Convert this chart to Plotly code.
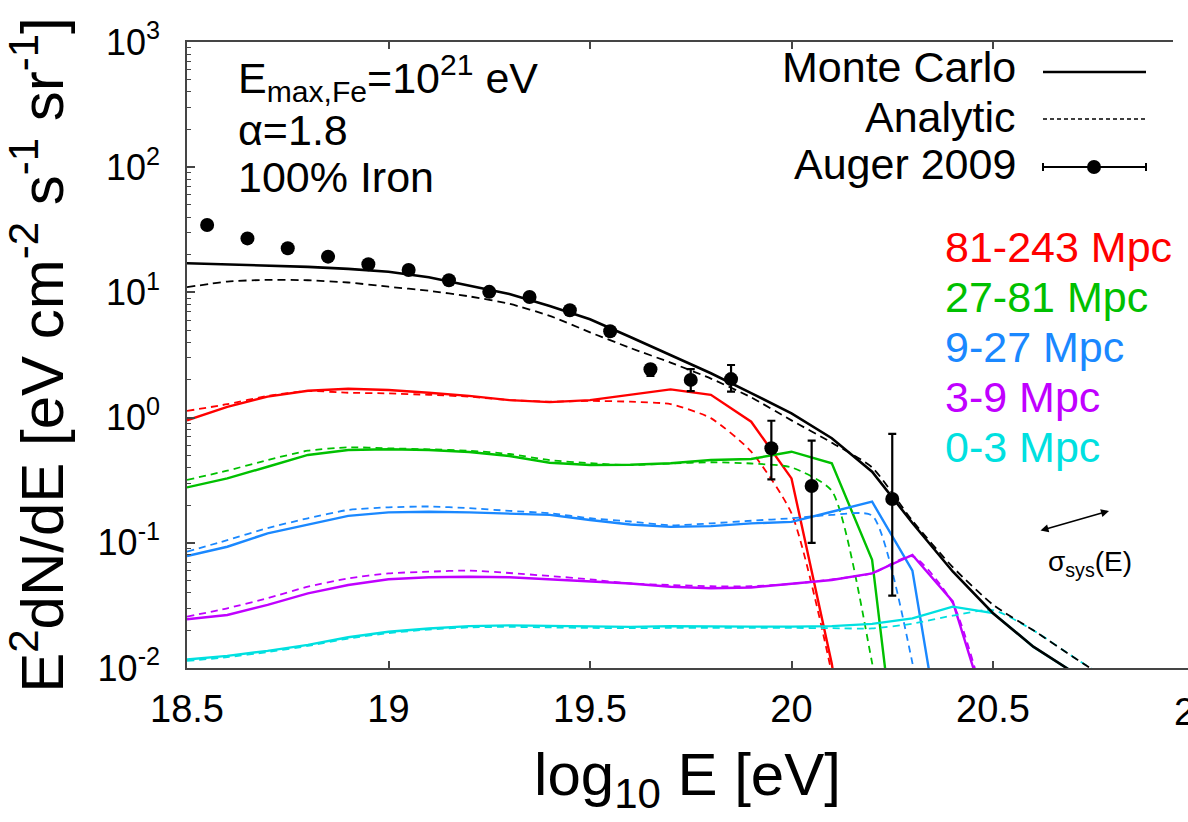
import plotly.graph_objects as go

# ---------------------------------------------------------------- data
# log10(E/eV) grid of the propagation histograms (bin spacing 0.1)
E_GRID = [18.5, 18.6, 18.7, 18.8, 18.9, 19.0, 19.1, 19.2, 19.3, 19.4, 19.5,
          19.6, 19.7, 19.8, 19.9, 20.0, 20.1, 20.2, 20.3, 20.4, 20.5, 20.6,
          20.7, 20.8, 20.9, 21.0]

# total flux E^2 dN/dE  [eV cm^-2 s^-1 sr^-1]
mc_total = [17.1, 16.7, 16.4, 16.0, 15.4, 14.6, 13.2, 11.3, 9.7, 7.8, 6.1,
            4.4, 3.13, 2.26, 1.57, 1.08, 0.684, 0.370, 0.144, 0.059, 0.0274,
            0.0148, 0.0092, 0.0045, 0.0022, 0.0011]
an_total = [11.0, 12.2, 12.6, 12.5, 12.0, 11.1, 10.3, 9.3, 8.1, 6.5, 4.8,
            3.6, 2.75, 2.05, 1.45, 0.95, 0.63, 0.40, 0.15, 0.064, 0.032,
            0.020, 0.0122, 0.0075, 0.0045, 0.0027]

# contributions of source-distance shells (Monte Carlo / analytic)
mc_81_243 = [0.95, 1.22, 1.47, 1.64, 1.70, 1.66, 1.58, 1.49, 1.38, 1.33, 1.38,
             1.52, 1.68, 1.52, 0.927, 0.327, 0.0108, 0.0001]
an_81_243 = [1.13, 1.28, 1.49, 1.63, 1.58, 1.56, 1.52, 1.47, 1.38, 1.34, 1.36,
             1.34, 1.28, 0.99, 0.535, 0.172, 0.009, 0.0001]

mc_27_81 = [0.277, 0.327, 0.405, 0.503, 0.551, 0.558, 0.551, 0.531, 0.493,
            0.436, 0.418, 0.420, 0.432, 0.458, 0.467, 0.534, 0.432, 0.073,
            0.00015]
an_27_81 = [0.318, 0.377, 0.458, 0.544, 0.579, 0.568, 0.558, 0.544, 0.512,
            0.458, 0.432, 0.418, 0.430, 0.440, 0.430, 0.400, 0.260, 0.011,
            0.0001]

mc_9_27 = [0.0785, 0.093, 0.119, 0.139, 0.164, 0.175, 0.177, 0.175, 0.172,
           0.167, 0.152, 0.140, 0.134, 0.136, 0.143, 0.147, 0.177, 0.213,
           0.060, 0.0007]
an_9_27 = [0.085, 0.105, 0.131, 0.157, 0.183, 0.192, 0.195, 0.189, 0.180,
           0.172, 0.157, 0.148, 0.138, 0.143, 0.150, 0.157, 0.167, 0.165,
           0.011, 0.0001]

mc_3_9 = [0.0245, 0.0265, 0.0319, 0.0395, 0.046, 0.0511, 0.053, 0.0535, 0.053,
          0.0511, 0.0489, 0.0473, 0.0446, 0.0433, 0.044, 0.0473, 0.0505,
          0.057, 0.080, 0.034, 0.0031]
an_3_9 = [0.0257, 0.030, 0.0361, 0.0446, 0.052, 0.057, 0.0588, 0.060, 0.0574,
          0.0543, 0.0511, 0.0473, 0.046, 0.045, 0.045, 0.047, 0.051, 0.057,
          0.078, 0.033, 0.003]

mc_0_3 = [0.0117, 0.0125, 0.0137, 0.0153, 0.0176, 0.0195, 0.0207, 0.0216,
          0.0219, 0.0216, 0.0214, 0.0213, 0.0216, 0.0214, 0.0214, 0.0214,
          0.0216, 0.0225, 0.0249, 0.0309, 0.0274, 0.0148, 0.0092, 0.0045,
          0.0022, 0.0011]
an_0_3 = [0.0114, 0.0122, 0.0134, 0.0150, 0.0172, 0.0190, 0.0203, 0.0211,
          0.0213, 0.0211, 0.0209, 0.0208, 0.0209, 0.0209, 0.0209, 0.0209,
          0.0208, 0.0207, 0.0226, 0.0262, 0.029, 0.020, 0.0122, 0.0075,
          0.0045, 0.0027]

# Pierre Auger Observatory spectrum (2009)
auger_E = [18.55, 18.65, 18.75, 18.85, 18.95, 19.05, 19.15, 19.25, 19.35,
           19.45, 19.55, 19.65, 19.75, 19.85, 19.95, 20.05, 20.25]
auger_flux = [34.5, 27.0, 22.5, 19.3, 16.8, 15.1, 12.5, 10.1, 9.2, 7.2, 4.9,
              2.43, 2.0, 2.03, 0.569, 0.284, 0.224]
auger_hi = [35.4, 27.7, 23.1, 19.8, 17.3, 15.6, 12.9, 10.5, 9.6, 7.5, 5.15,
            2.64, 2.44, 2.63, 0.944, 0.655, 0.740]
auger_lo = [33.6, 26.3, 21.9, 18.8, 16.3, 14.6, 12.1, 9.7, 8.8, 6.9, 4.65,
            2.15, 1.63, 1.61, 0.321, 0.100, 0.0378]

shell_labels = ["81-243 Mpc", "27-81 Mpc", "9-27 Mpc", "3-9 Mpc", "0-3 Mpc"]
shell_colors = ["#ff0000", "#00c000", "#1a88ff", "#c000ff", "#00e0e0"]
shell_mc = [mc_81_243, mc_27_81, mc_9_27, mc_3_9, mc_0_3]
shell_an = [an_81_243, an_27_81, an_9_27, an_3_9, an_0_3]

x_ticks = [18.5, 19, 19.5, 20, 20.5]
x_ticktext = ["18.5", "19", "19.5", "20", "20.5"]
y_exponents = [-2, -1, 0, 1, 2, 3]

# ---------------------------------------------------------------- layout constants
W, H = 1188, 822
PL, PR, PT, PB = 187, 1188, 42, 668           # plot area in pixels
X_MIN = 18.5
X_MAX = 18.5 + (PR - PL) / 403.0              # 403 px per unit of log10 E
FONT = "Liberation Sans, Arial, Helvetica, sans-serif"
AXIS_COL = "#454545"


def px(xp):
    return (xp - PL) / (PR - PL)


def py(yp):
    return (PB - yp) / (PB - PT)


fig = go.Figure()

# analytic (dashed) and Monte Carlo (solid) shell contributions
for vals_mc, vals_an, col in zip(shell_mc, shell_an, shell_colors):
    fig.add_trace(go.Scatter(
        x=E_GRID[:len(vals_an)], y=vals_an, mode="lines",
        line=dict(color=col, width=1.8, dash="7px,5px", shape="spline",
                  smoothing=0.6),
        showlegend=False, hoverinfo="skip"))
    fig.add_trace(go.Scatter(
        x=E_GRID[:len(vals_mc)], y=vals_mc, mode="lines",
        line=dict(color=col, width=2.4),
        showlegend=False, hoverinfo="skip"))

fig.add_trace(go.Scatter(
    x=E_GRID, y=an_total, mode="lines",
    line=dict(color="black", width=1.8, dash="8px,5px", shape="spline",
              smoothing=0.6),
    showlegend=False, hoverinfo="skip"))
fig.add_trace(go.Scatter(
    x=E_GRID, y=mc_total, mode="lines",
    line=dict(color="black", width=2.6),
    showlegend=False, hoverinfo="skip"))

fig.add_trace(go.Scatter(
    x=auger_E, y=auger_flux, mode="markers",
    marker=dict(color="black", size=14),
    error_y=dict(type="data", symmetric=False,
                 array=[h - v for h, v in zip(auger_hi, auger_flux)],
                 arrayminus=[v - l for v, l in zip(auger_flux, auger_lo)],
                 color="black", thickness=2.2, width=4),
    showlegend=False, hoverinfo="skip"))

# ---------------------------------------------------------------- key
shapes = []
annotations = []
key_rows = [("Monte Carlo", 67), ("Analytic", 117), ("Auger 2009", 164)]
for text, ty in key_rows:
    annotations.append(dict(text=text, x=px(1018), y=py(ty), xref="paper",
                            yref="paper", xanchor="right", yanchor="middle",
                            showarrow=False,
                            font=dict(family=FONT, size=43, color="black")))
shapes.append(dict(type="line", xref="paper", yref="paper", x0=px(1043),
                   x1=px(1146), y0=py(72), y1=py(72),
                   line=dict(color="black", width=2.4)))
shapes.append(dict(type="line", xref="paper", yref="paper", x0=px(1043),
                   x1=px(1146), y0=py(119), y1=py(119),
                   line=dict(color="black", width=1.5, dash="4px,3px")))
shapes.append(dict(type="line", xref="paper", yref="paper", x0=px(1043),
                   x1=px(1146), y0=py(167), y1=py(167),
                   line=dict(color="black", width=2)))
for cx in (1043, 1146):
    shapes.append(dict(type="line", xref="paper", yref="paper", x0=px(cx),
                       x1=px(cx), y0=py(163), y1=py(171),
                       line=dict(color="black", width=2)))
shapes.append(dict(type="circle", xref="paper", yref="paper",
                   x0=px(1094 - 7), x1=px(1094 + 7), y0=py(167 + 7),
                   y1=py(167 - 7), fillcolor="black",
                   line=dict(color="black", width=0)))

# the frame's top edge stops short of the right border
shapes.append(dict(type="rect", xref="paper", yref="paper", x0=px(1173),
                   x1=1.0, y0=py(48), y1=py(36), fillcolor="white",
                   line=dict(width=0), layer="above"))

for i, (lab, col) in enumerate(zip(shell_labels, shell_colors)):
    annotations.append(dict(text=lab, x=px(943), y=py(247 + 50 * i),
                            xref="paper", yref="paper", xanchor="left",
                            yanchor="middle", showarrow=False,
                            font=dict(family=FONT, size=43, color=col)))

# model parameters
for text, ty in [("E<sub>max,Fe</sub>=10<sup>21</sup> eV", 78),
                 ("α=1.8", 130), ("100% Iron", 177)]:
    annotations.append(dict(text=text, x=px(236), y=py(ty), xref="paper",
                            yref="paper", xanchor="left", yanchor="middle",
                            showarrow=False,
                            font=dict(family=FONT, size=43, color="black")))

# systematic energy-scale uncertainty
annotations.append(dict(text="", x=px(1109), y=py(511), xref="paper",
                        yref="paper", ax=-70, ay=20, showarrow=True,
                        arrowhead=2, arrowsize=1, arrowwidth=1.6,
                        arrowside="end+start", arrowcolor="black"))
annotations.append(dict(text="σ<sub>sys</sub>(E)", x=px(1090), y=py(563),
                        xref="paper", yref="paper", xanchor="center",
                        yanchor="middle", showarrow=False,
                        font=dict(family=FONT, size=28, color="black")))

# last x tick label sits just past the visible frame
annotations.append(dict(text="21", x=(21 - X_MIN) / (X_MAX - X_MIN),
                        y=py(712), xref="paper", yref="paper",
                        xanchor="center", yanchor="middle", showarrow=False,
                        font=dict(family=FONT, size=38, color="black")))

minor_vals = [m * 10.0 ** e for e in y_exponents[:-1] for m in range(2, 10)]

fig.update_layout(
    width=W, height=H,
    margin=dict(l=PL, r=W - PR, t=PT, b=H - PB, pad=0),
    paper_bgcolor="white", plot_bgcolor="white",
    template="none",
    showlegend=False,
    shapes=shapes, annotations=annotations,
    xaxis=dict(
        range=[X_MIN, X_MAX], tickvals=x_ticks, ticktext=x_ticktext,
        ticks="inside", ticklen=7, tickwidth=1.5, tickcolor=AXIS_COL,
        showline=True, linecolor=AXIS_COL, linewidth=1.5, mirror="ticks",
        showgrid=False, zeroline=False, ticklabelstandoff=7,
        tickfont=dict(family=FONT, size=38, color="black"),
        title=dict(text="log<sub>10</sub> E [eV]", standoff=24,
                   font=dict(family=FONT, size=60, color="black")),
    ),
    yaxis=dict(
        type="log", range=[-2, 3],
        tickvals=[10.0 ** e for e in y_exponents],
        ticktext=["10<sup>%d</sup>" % e for e in y_exponents],
        ticks="inside", ticklen=8, tickwidth=1.5, tickcolor=AXIS_COL,
        minor=dict(tickvals=minor_vals, ticks="inside", ticklen=4,
                   tickwidth=1, tickcolor=AXIS_COL, showgrid=False),
        showline=True, linecolor=AXIS_COL, linewidth=1.5, mirror=False,
        showgrid=False, zeroline=False, ticklabelstandoff=18,
        tickfont=dict(family=FONT, size=36, color="black"),
        title=dict(text="E<sup>2</sup>dN/dE [eV cm<sup>-2</sup> s<sup>-1</sup> sr<sup>-1</sup>]",
                   standoff=18,
                   font=dict(family=FONT, size=60, color="black")),
    ),
)

fig.write_html("out.html")
